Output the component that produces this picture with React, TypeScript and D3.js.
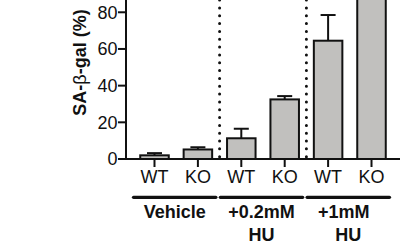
import * as d3 from "d3"

const categories = ["WT", "KO", "WT ", "KO ", "WT  ", "KO  "]
const tickLabels = ["WT", "KO", "WT", "KO", "WT", "KO"]
const means = [2.0, 5.2, 11.3, 32.5, 64.5, 95]
const errors = [1.2, 1.2, 5.2, 1.8, 14, 5]
const groupLabels = [["Vehicle"], ["+0.2mM", "HU"], ["+1mM", "HU"]]
const yTicks = [0, 20, 40, 60, 80]

const W = 412
const H = 247
const font = "'Liberation Sans', Arial, Helvetica, sans-serif"

export default function App() {
  const x0 = 126
  const x1 = 400
  const y0 = 159

  const x = d3
    .scaleBand<string>()
    .domain(categories)
    .range([x0, x1])
    .paddingInner(0.343)
    .paddingOuter(0.328)

  const y = d3.scaleLinear().domain([0, 100]).range([y0, y0 - 183.4])

  const cx = (i: number) => (x(categories[i]) || 0) + x.bandwidth() / 2
  const dividers = [(cx(1) + cx(2)) / 2, (cx(3) + cx(4)) / 2]

  return (
    <svg
      width={W}
      height={H}
      style={{ position: "absolute", left: 0, top: 0, background: "#fff" }}
      fontFamily={font}
    >
      <defs>
        <clipPath id="plot">
          <rect x={x0} y={0} width={x1 - x0} height={y0} />
        </clipPath>
      </defs>

      {/* bars + error bars */}
      <g clipPath="url(#plot)">
        {means.map((m, i) => {
          const c = cx(i)
          return (
            <g key={i}>
              <line x1={c} x2={c} y1={y(m)} y2={y(m + errors[i])} stroke="#111" strokeWidth={2} />
              <line x1={c - 7.5} x2={c + 7.5} y1={y(m + errors[i])} y2={y(m + errors[i])} stroke="#111" strokeWidth={2} />
              <rect
                x={x(categories[i])}
                y={y(m)}
                width={x.bandwidth()}
                height={y0 - y(m)}
                fill="#c1c0be"
                stroke="#111"
                strokeWidth={2}
              />
            </g>
          )
        })}
      </g>

      {/* dotted dividers */}
      {dividers.map((d, i) => (
        <line
          key={i}
          x1={d}
          x2={d}
          y1={156.7}
          y2={-2}
          stroke="#111"
          strokeWidth={3}
          strokeLinecap="round"
          strokeDasharray="0 7.83"
        />
      ))}

      {/* y axis */}
      <line x1={x0} x2={x0} y1={y0 + 1} y2={0} stroke="#111" strokeWidth={2} />
      {yTicks.map((t) => (
        <g key={t}>
          <line x1={x0 - 8} x2={x0} y1={y(t)} y2={y(t)} stroke="#111" strokeWidth={2} />
          <text x={x0 - 8.5} y={y(t)} dy="0.36em" textAnchor="end" fontSize={18} fill="#111">
            {t}
          </text>
        </g>
      ))}
      <text
        transform="rotate(-90)"
        x={-62.5}
        y={85.5}
        textAnchor="middle"
        fontSize={18}
        fontWeight="bold"
        fill="#111"
      >
        SA-<tspan fontWeight="normal">β</tspan>-gal (%)
      </text>

      {/* x axis */}
      <line x1={x0 - 1} x2={x1} y1={y0} y2={y0} stroke="#111" strokeWidth={2} />
      {categories.map((c, i) => (
        <g key={c}>
          <line x1={cx(i)} x2={cx(i)} y1={y0} y2={y0 + 8} stroke="#111" strokeWidth={2} />
          <text x={cx(i)} y={183.3} textAnchor="middle" fontSize={18} fill="#111">
            {tickLabels[i]}
          </text>
        </g>
      ))}

      {/* group brackets */}
      {groupLabels.map((lines, g) => {
        const a = cx(g * 2) - 21
        const b = cx(g * 2 + 1) + 18
        const mid = (a + b) / 2
        return (
          <g key={g}>
            <line x1={a} x2={b} y1={197.3} y2={197.3} stroke="#111" strokeWidth={3.2} strokeLinecap="round" />
            {lines.map((t, k) => (
              <text
                key={k}
                x={mid}
                dx={g === 2 && k === 0 ? -4.5 : 0}
                y={218.3 + k * 22.4}
                textAnchor="middle"
                fontSize={18}
                fontWeight="bold"
                fill="#111"
              >
                {t}
              </text>
            ))}
          </g>
        )
      })}
    </svg>
  )
}
